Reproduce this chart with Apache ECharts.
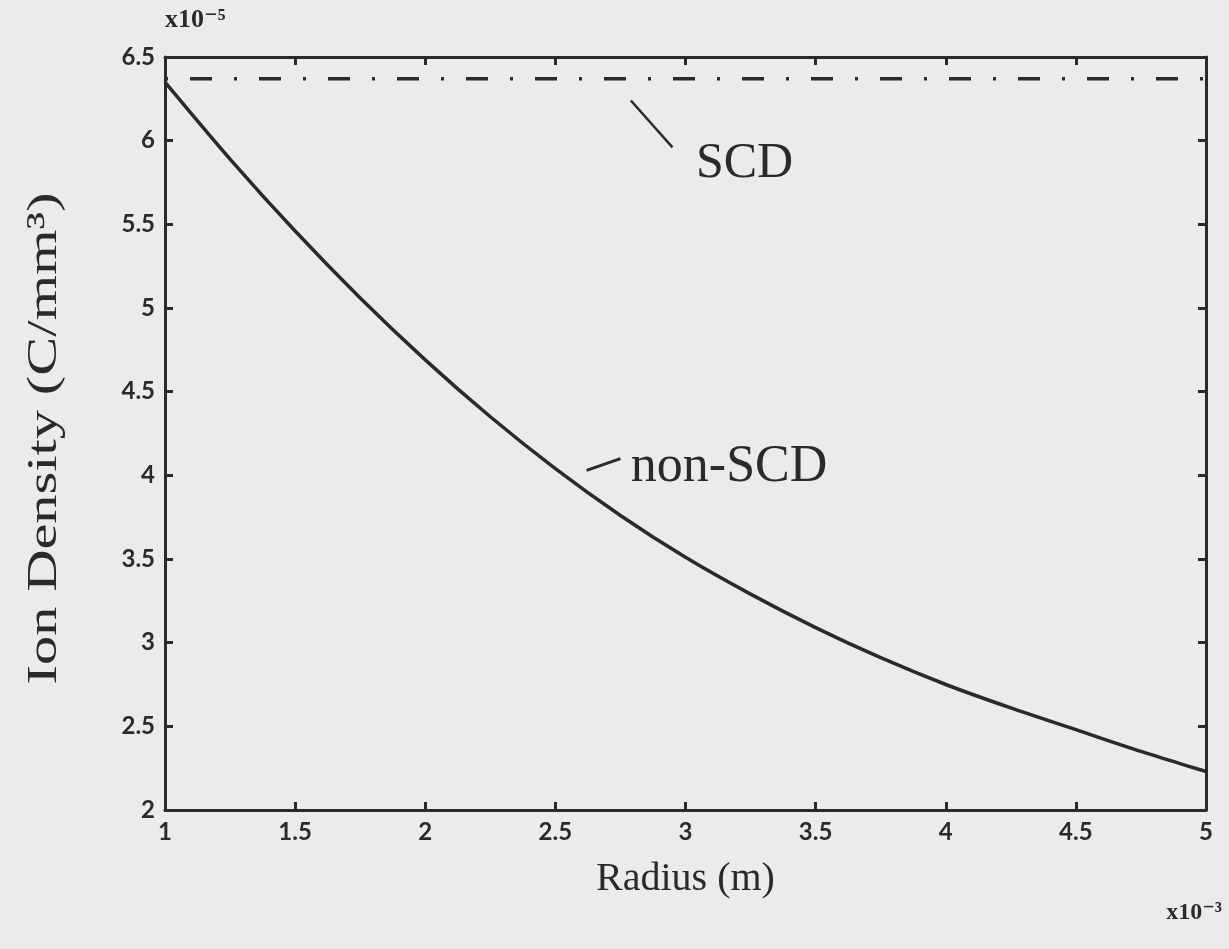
<!DOCTYPE html>
<html>
<head>
<meta charset="utf-8">
<script src="https://cdn.jsdelivr.net/npm/echarts@6/dist/echarts.min.js"></script>
<style>
html,body{margin:0;padding:0;background:#ebebeb;}
#chart{width:1229px;height:949px;}
</style>
</head>
<body>
<div id="chart"></div>
<script>
// Radius (x10^-3 m)
const radius = [1.0, 1.25, 1.5, 1.75, 2.0, 2.25, 2.5, 2.75, 3.0, 3.25, 3.5, 3.75, 4.0, 4.25, 4.5, 4.75, 5.0];
// non-SCD ion density (x10^-5 C/mm^3)
const nonSCD = [6.35, 5.89, 5.46, 5.06, 4.69, 4.35, 4.04, 3.76, 3.51, 3.29, 3.09, 2.91, 2.75, 2.61, 2.48, 2.35, 2.23];
// SCD ion density (constant)
const scdRadius = [1.0, 5.0];
const scdValue = [6.37, 6.37];
const xTicks = ['1', '1.5', '2', '2.5', '3', '3.5', '4', '4.5', '5'];
const yTicks = ['2', '2.5', '3', '3.5', '4', '4.5', '5', '5.5', '6', '6.5'];

const serif = '"Liberation Serif", "DejaVu Serif", serif';
const sans = 'Lato, "Open Sans", sans-serif';
const ink = '#2a2a2a';

const chart = echarts.init(document.getElementById('chart'));
const axisLine = { show: true, lineStyle: { color: ink, width: 3 } };
const axisTick = { show: true, inside: true, length: 8, lineStyle: { color: ink, width: 3 } };

const option = {
  backgroundColor: '#ebebeb',
  animation: false,
  grid: { left: 165, right: 23, top: 57, bottom: 139 },
  xAxis: [{
    type: 'value', min: 1, max: 5, interval: 0.5, position: 'bottom',
    axisLine, axisTick, splitLine: { show: false },
    axisLabel: { color: ink, fontFamily: sans, fontWeight: 'bold', fontSize: 24, margin: 10,
      formatter: v => xTicks.find(t => Math.abs(parseFloat(t) - v) < 1e-9) || '' },
    name: 'Radius (m)', nameLocation: 'middle', nameGap: 49,
    nameTextStyle: { fontFamily: serif, fontSize: 40, color: ink }
  }, {
    type: 'value', min: 1, max: 5, interval: 0.5, position: 'top',
    axisLine, axisTick, axisLabel: { show: false }, splitLine: { show: false }
  }],
  yAxis: [{
    type: 'value', min: 2, max: 6.5, interval: 0.5, position: 'left',
    axisLine, axisTick, splitLine: { show: false },
    axisLabel: { color: ink, fontFamily: sans, fontWeight: 'bold', fontSize: 24, margin: 10,
      formatter: v => yTicks.find(t => Math.abs(parseFloat(t) - v) < 1e-9) || '' }
  }, {
    type: 'value', min: 2, max: 6.5, interval: 0.5, position: 'right',
    axisLine, axisTick, axisLabel: { show: false }, splitLine: { show: false }
  }],
  series: [{
    name: 'non-SCD', type: 'line', smooth: 0.3, symbol: 'none',
    data: radius.map((r, i) => [r, nonSCD[i]]),
    lineStyle: { color: ink, width: 3.5 }
  }, {
    name: 'SCD', type: 'line', symbol: 'none',
    data: scdRadius.map((r, i) => [r, scdValue[i]]),
    lineStyle: { color: ink, width: 3.5, type: [3, 22, 22, 22], cap: 'butt' }
  }]
};
chart.setOption(option);

// annotations anchored to data coordinates
function px(x, y) { return chart.convertToPixel({ xAxisIndex: 0, yAxisIndex: 0 }, [x, y]); }
const scdFrom = px(2.79, 6.24), scdTo = px(2.95, 5.96), scdText = px(3.04, 5.86);
const nFrom = px(2.62, 4.03), nTo = px(2.75, 4.10), nText = px(2.79, 4.05);
const expY = px(1.0, 6.5), expX = px(5.0, 2.0);
const yMid = px(1.0, 4.25);
chart.setOption({
  graphic: [
    { type: 'text', x: 45, y: yMid[1] + 5, rotation: Math.PI / 2, scaleX: 1.36,
      style: { text: 'Ion Density (C/mm³)', font: '43px ' + serif, fill: ink, textAlign: 'center', textVerticalAlign: 'middle' } },
    { type: 'line', shape: { x1: scdFrom[0], y1: scdFrom[1], x2: scdTo[0], y2: scdTo[1] }, style: { stroke: ink, lineWidth: 2.5 } },
    { type: 'text', x: scdText[0], y: scdText[1], style: { text: 'SCD', font: '50px ' + serif, fill: ink, textVerticalAlign: 'middle' } },
    { type: 'line', shape: { x1: nFrom[0], y1: nFrom[1], x2: nTo[0], y2: nTo[1] }, style: { stroke: ink, lineWidth: 3 } },
    { type: 'text', x: nText[0], y: nText[1], style: { text: 'non-SCD', font: '52px ' + serif, fill: ink, textVerticalAlign: 'middle' } },
    { type: 'text', x: expY[0], y: expY[1] - 37, style: { text: 'x10⁻⁵', font: 'bold 26px ' + serif, fill: ink, textVerticalAlign: 'middle' } },
    { type: 'text', x: expX[0] + 16, y: expX[1] + 103, style: { text: 'x10⁻³', font: 'bold 24px ' + serif, fill: ink, textAlign: 'right', textVerticalAlign: 'middle' } }
  ]
});
</script>
</body>
</html>
